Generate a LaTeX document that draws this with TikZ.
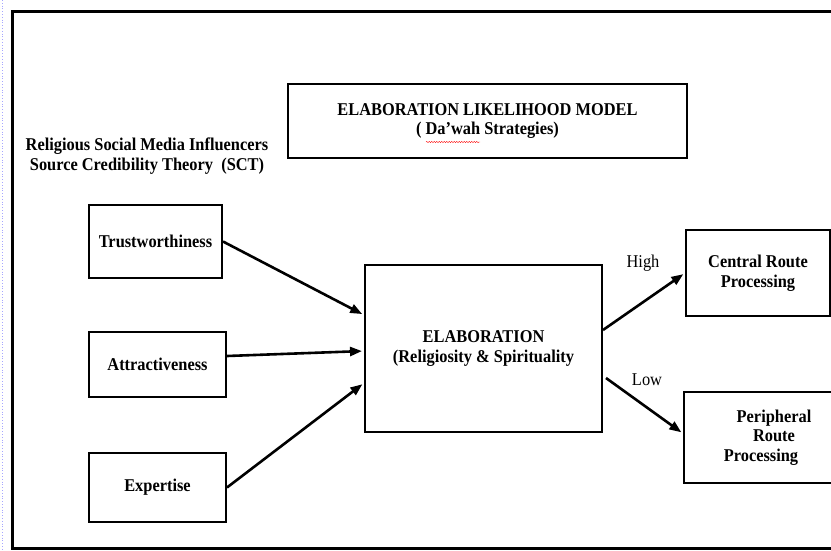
\documentclass[tikz,border=0pt]{standalone}
\usepackage{fontspec}
\setmainfont{Liberation Serif}[FakeStretch=0.91]
\usetikzlibrary{arrows.meta, positioning, decorations.pathmorphing}
\tikzset{
  box/.style={draw, line width=2pt, inner sep=0pt, align=center,
    font=\fontsize{18}{19.5}\selectfont\bfseries},
  link/.style={line width=2.6pt, -{Triangle[length=12pt,width=9pt]}, shorten >=2pt},
  route/.style={font=\fontsize{18}{19.5}\selectfont}
}

\begin{document}
\begin{tikzpicture}[x=1pt,y=-1pt]
\useasboundingbox (0,0) rectangle (831,550);

\draw[blue!35, dotted, line width=0.8pt] (2,0) -- (2,550);
\draw[line width=3pt] (12,11) rectangle (860,548);

\node[box, minimum width=399pt, minimum height=74pt] (elm) at (487.5,121)
  {ELABORATION LIKELIHOOD MODEL\\( Da’wah Strategies)};
\draw[red, line width=0.4pt, decorate, decoration={snake, amplitude=0.6pt, segment length=2.5pt}]
  (426,142) -- (480,142);

\node[font=\fontsize{18}{19.5}\selectfont\bfseries, align=center] (sct) at (147,156)
  {Religious Social Media Influencers\\Source Credibility Theory\ \ (SCT)};

\node[box, minimum width=133pt, minimum height=73pt] (trust) at (155.5,241.5) {Trustworthiness};
\node[box, minimum width=137pt, minimum height=65pt] (attr) at (157.5,364.5) {Attractiveness};
\node[box, minimum width=137pt, minimum height=69pt] (expert) at (157.5,487.5) {Expertise};

\node[box, minimum width=237pt, minimum height=167pt] (elab) at (483.5,348.5)
  {ELABORATION\\(Religiosity \& Spirituality};

\node[box, minimum width=144pt, minimum height=86pt] (central) at (758,273)
  {Central Route\\Processing};
\node[box, minimum width=180pt, minimum height=91pt] (periph) at (774,437.5)
  {Peripheral\\Route\\Processing\hspace*{26pt}};

\draw[link] (trust.east) -- ([yshift=33.5pt]elab.west);
\draw[link] ([yshift=8.5pt]attr.east) -- ([yshift=-2.5pt]elab.west);
\draw[link] (expert.east) -- ([yshift=-34.5pt]elab.west);

\draw[link] ([yshift=18.5pt]elab.east) -- (central.west);
\draw[link] ([xshift=3pt,yshift=-29.5pt]elab.east) -- ([yshift=4pt]periph.west);

\node[route] (high) at (643,263) {High};
\node[route] (low) at (647,380) {Low};
\end{tikzpicture}
\end{document}
